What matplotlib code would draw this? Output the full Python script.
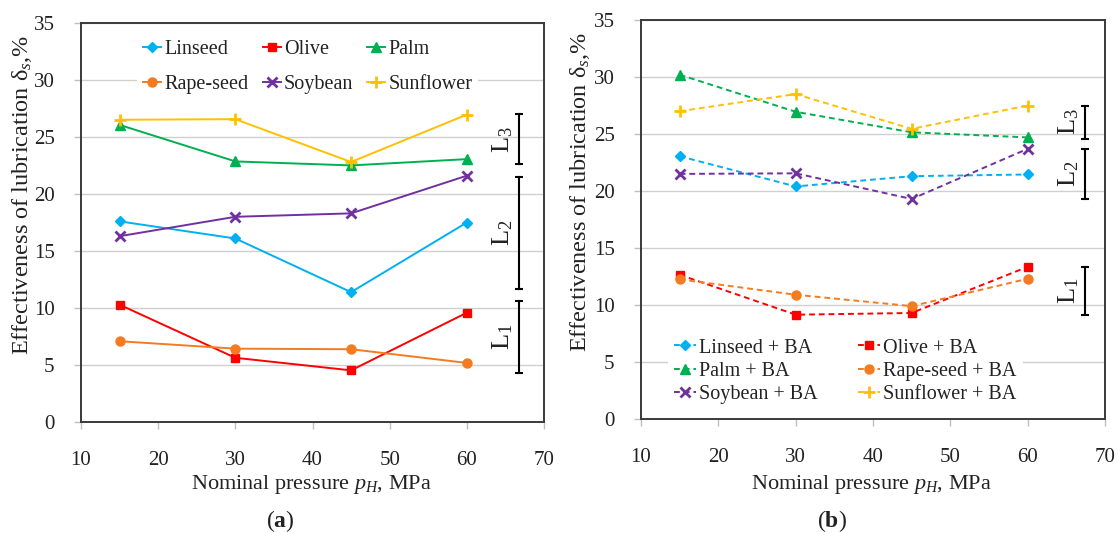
import matplotlib
matplotlib.use("Agg")
import matplotlib.pyplot as plt

plt.rcParams['font.family'] = ['Liberation Serif', 'DejaVu Serif']
plt.rcParams['mathtext.fontset'] = 'custom'
plt.rcParams['mathtext.rm'] = 'Liberation Serif'
plt.rcParams['mathtext.it'] = 'Liberation Serif:italic'
plt.rcParams['mathtext.bf'] = 'Liberation Serif:bold'

# ---------------- data ----------------
pressure = [15, 30, 45, 60]

oils = ["Linseed", "Olive", "Palm", "Rape-seed", "Soybean", "Sunflower"]

a_linseed = [17.6, 16.1, 11.4, 17.5]
a_olive = [10.3, 5.65, 4.55, 9.6]
a_palm = [26.05, 22.85, 22.5, 23.05]
a_rape = [7.1, 6.45, 6.4, 5.2]
a_soy = [16.3, 18.0, 18.3, 21.6]
a_sun = [26.5, 26.55, 22.8, 26.95]

b_linseed = [23.05, 20.4, 21.3, 21.45]
b_olive = [12.65, 9.15, 9.3, 13.35]
b_palm = [30.2, 26.95, 25.15, 24.7]
b_rape = [12.25, 10.9, 9.9, 12.3]
b_soy = [21.5, 21.55, 19.3, 23.7]
b_sun = [27.0, 28.5, 25.45, 27.5]

# bracket ranges (low, high) for L1, L2, L3
a_brackets = [(4.35, 10.6), (11.65, 21.5), (22.6, 27.0)]
b_brackets = [(9.1, 13.35), (19.3, 23.7), (24.6, 27.5)]
bracket_labels = ["L$_1$", "L$_2$", "L$_3$"]

xticks = [10, 20, 30, 40, 50, 60, 70]
yticks = [0, 5, 10, 15, 20, 25, 30, 35]

colors = ["#00B0F0", "#FF0000", "#00B050", "#F47B20", "#7030A0", "#FFC000"]
markers = ["D", "s", "^", "o", "x", "+"]
msizes = [5, 5.5, 6.5, 6.5, 7, 8.5]

# ---------------- figure ----------------
fig = plt.figure(figsize=(11.18, 5.33), dpi=100)
ax1 = fig.add_axes([81 / 1118, (533 - 422.3) / 533, (544 - 81) / 1118, (422.3 - 22.7) / 533])
ax2 = fig.add_axes([641 / 1118, (533 - 419) / 533, (1105 - 641) / 1118, (419 - 20) / 533])


def style_axes(ax):
    ax.set_xlim(10, 70)
    ax.set_ylim(0, 35)
    ax.set_xticks(xticks)
    ax.set_yticks(yticks)
    ax.tick_params(axis='both', which='both', direction='out', length=5, width=1,
                   color='#BFBFBF', labelsize=15, labelcolor='#222222')
    ax.tick_params(axis='x', pad=16)
    ax.tick_params(axis='y', pad=14)
    ax.grid(axis='y', color='#D0D0D0', linewidth=1.0, zorder=0)
    ax.set_axisbelow(True)
    for s in ax.spines.values():
        s.set_color('#3A3A3A')
        s.set_linewidth(1.4)
    ax.set_xlabel("Nominal pressure $p_H$, MPa", fontsize=16, color='#222222')
    ax.xaxis.label.set_va('center')
    ax.set_ylabel("Effectiveness of lubrication δ$_s$,%", fontsize=17.5, color='#222222')
    ax.yaxis.label.set_va('center')


style_axes(ax1)
style_axes(ax2)
ax1.xaxis.set_label_coords(0.497, -0.155)
ax2.xaxis.set_label_coords(0.497, -0.163)
ax1.yaxis.set_label_coords(-0.128, 0.57)
ax2.yaxis.set_label_coords(-0.131, 0.57)

a_series = [a_linseed, a_olive, a_palm, a_rape, a_soy, a_sun]
b_series = [b_linseed, b_olive, b_palm, b_rape, b_soy, b_sun]

handles_a = []
handles_b = []
for i, name in enumerate(oils):
    mew = 2 if markers[i] in ('x', '+') else 1
    h, = ax1.plot(pressure, a_series[i], color=colors[i], marker=markers[i], ms=msizes[i],
                  mew=mew, lw=1.4, label=name, zorder=3)
    handles_a.append(h)
    h2, = ax2.plot(pressure, b_series[i], color=colors[i], marker=markers[i], ms=msizes[i],
                   mew=mew, lw=1.4, linestyle=(0, (3, 2)), label=name + " + BA", zorder=3)
    handles_b.append(h2)

# legend (a): rows Linseed Olive Palm / Rape-seed Soybean Sunflower
order_a = [0, 3, 1, 4, 2, 5]
leg1 = ax1.legend([handles_a[k] for k in order_a], [oils[k] for k in order_a], ncol=3,
                  loc='center', bbox_to_anchor=(0.49, 0.889), frameon=True, fancybox=False,
                  edgecolor='none', facecolor='white', framealpha=1, fontsize=14.5,
                  handlelength=0.9, handletextpad=0.15, columnspacing=0.7,
                  labelspacing=0.8, borderpad=0.3, borderaxespad=0)
for t in leg1.get_texts():
    t.set_color('#222222')

# legend (b): rows Linseed Olive / Palm Rape-seed / Soybean Sunflower
order_b = [0, 2, 4, 1, 3, 5]
leg2 = ax2.legend([handles_b[k] for k in order_b], [oils[k] + " + BA" for k in order_b], ncol=2,
                  loc='center', bbox_to_anchor=(0.44, 0.12), frameon=True, fancybox=False,
                  edgecolor='none', facecolor='white', framealpha=1, fontsize=14.5,
                  handlelength=1.1, handletextpad=0.15, columnspacing=2.0,
                  labelspacing=0.2, borderpad=0.3, borderaxespad=0)
for t in leg2.get_texts():
    t.set_color('#222222')


def draw_brackets(ax, brackets, bx):
    for (lo, hi), lab in zip(brackets, bracket_labels):
        ax.plot([bx, bx], [lo, hi], color='black', lw=1.5, zorder=4)
        ax.plot([bx, bx], [lo, hi], color='black', lw=0, marker='_', ms=6, mew=1.5, zorder=4)
        ax.annotate(lab, xy=(bx, (lo + hi) / 2), xytext=(-12, 0), textcoords='offset points',
                    rotation=90, ha='center', va='center', fontsize=19, color='#222222')


draw_brackets(ax1, a_brackets, 66.8)
draw_brackets(ax2, b_brackets, 67.4)

fig.text(280 / 1118, 1 - 521 / 533, r"($\mathbf{a}$)", ha='center', va='center', fontsize=17, color='#222222')
fig.text(832 / 1118, 1 - 521 / 533, r"($\mathbf{b}$)", ha='center', va='center', fontsize=17, color='#222222')

fig.savefig("out.png", dpi=100, facecolor='white')
